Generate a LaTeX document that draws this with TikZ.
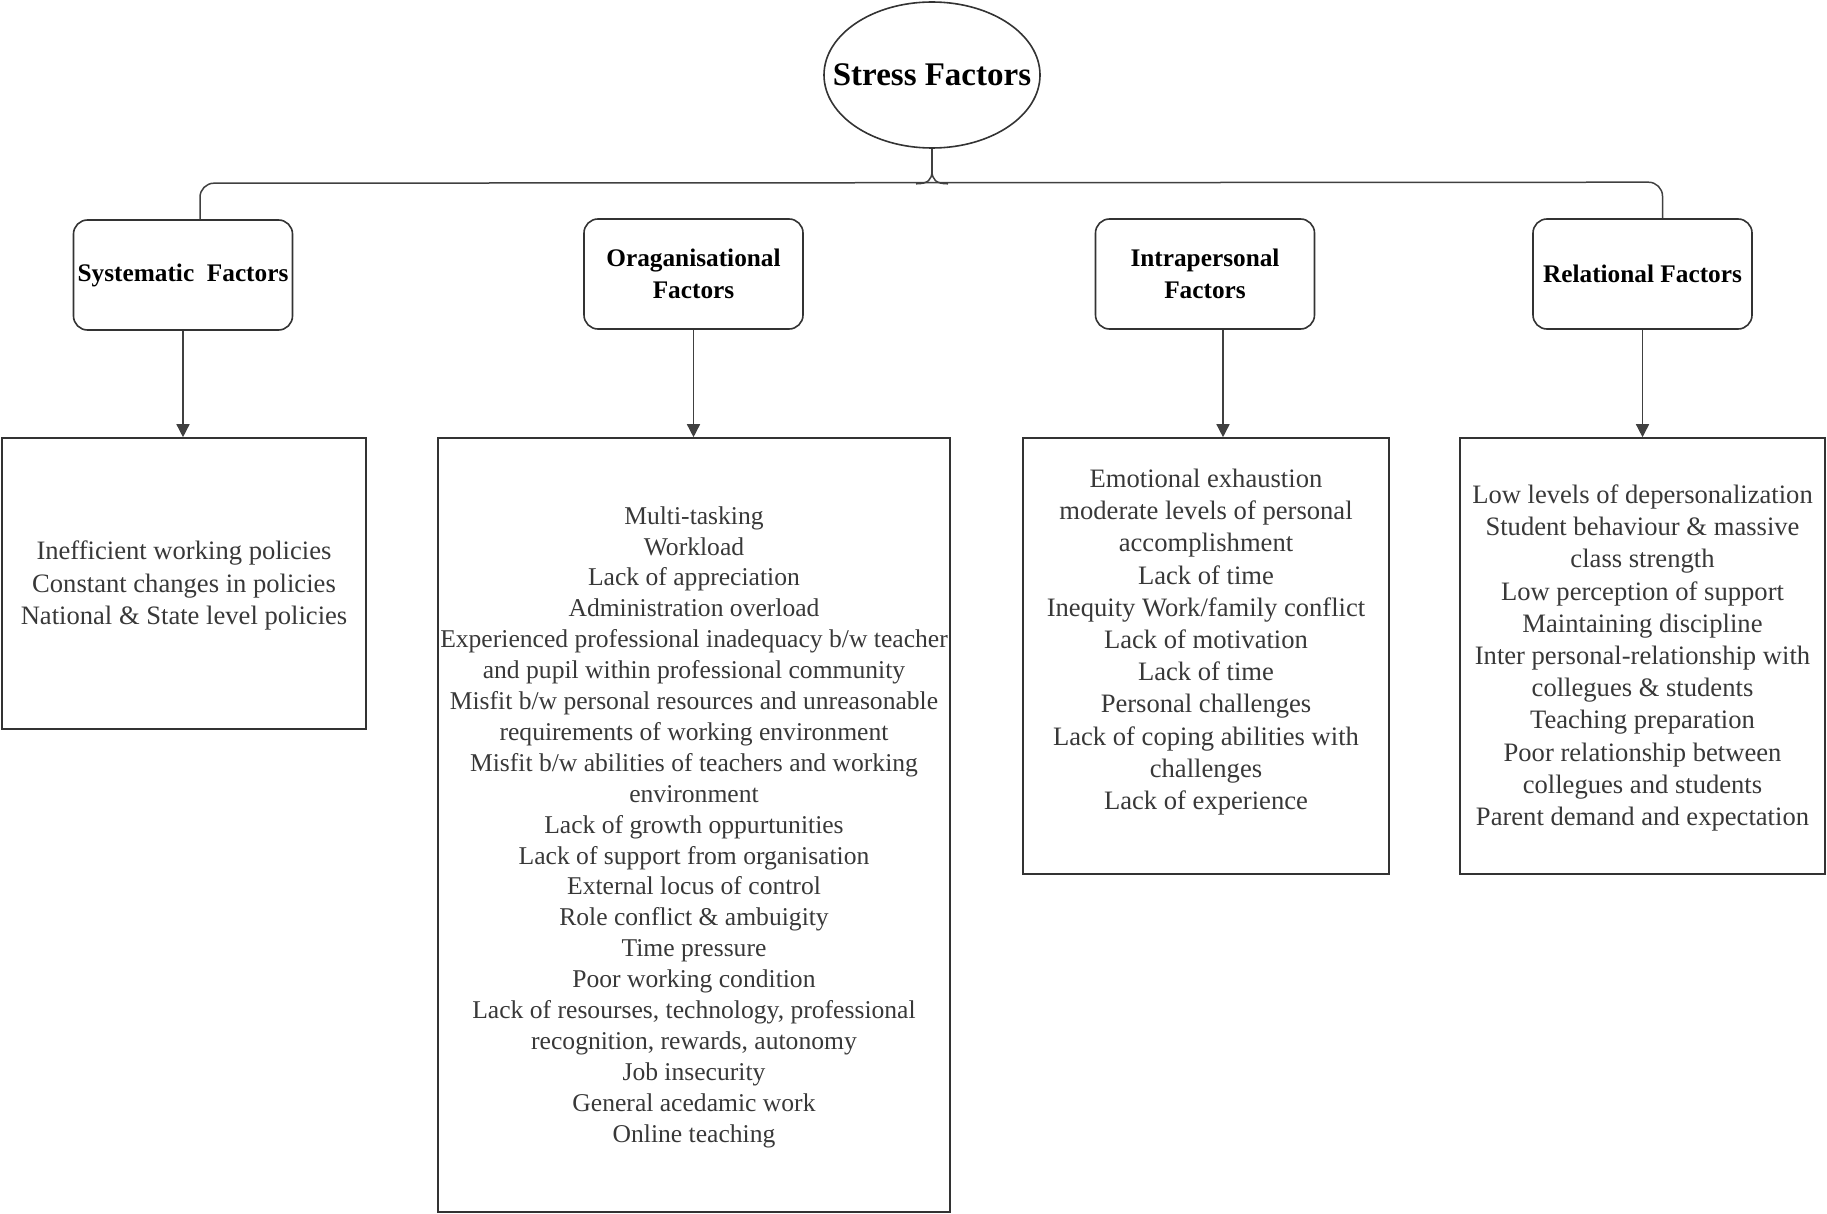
\documentclass[tikz,border=0pt]{standalone}
\usepackage{fontspec}
\setmainfont{Liberation Serif}
\usetikzlibrary{shapes.geometric,arrows.meta,calc}
\begin{document}
\begin{tikzpicture}[x=1pt,y=-1pt,
  hdr/.style={draw=black!80, line width=1.6pt, rounded corners=14pt, minimum width=219pt, minimum height=110pt, align=center, font=\bfseries\fontsize{25.3}{31.5}\selectfont, inner sep=0pt},
  cbox/.style={draw=black!80, line width=1.6pt, inner sep=0pt},
  ctext/.style={align=center, text=black!78, font=\fontsize{26.6}{32.2}\selectfont, inner sep=0pt},
  conn/.style={draw=black!75, line width=1.5pt},
  arr/.style={conn, -{Triangle[width=13pt,length=13pt]}}
]
\useasboundingbox (0,0) rectangle (1827,1214);

% root
\node[ellipse, draw=black!80, line width=1.6pt, minimum width=216pt, minimum height=146pt, inner sep=0pt] (sf) at (932,75) {};
\node[font=\bfseries\fontsize{33}{36}\selectfont, inner sep=0pt] (sft) at (sf.center) {Stress Factors};

% header boxes
\node[hdr] (b1) at (183,275) {Systematic\ \ Factors};
\node[hdr] (b2) at (693.5,274) {Oraganisational\\Factors};
\node[hdr] (b3) at (1205,274) {Intrapersonal\\Factors};
\node[hdr] (b4) at (1642.5,274) {Relational Factors};

% content boxes
\node[cbox, minimum width=364pt, minimum height=291pt] (c1) at (184,583.5) {};
\node[cbox, minimum width=512pt, minimum height=774pt] (c2) at (694,825) {};
\node[cbox, minimum width=366pt, minimum height=436pt] (c3) at (1206,656) {};
\node[cbox, minimum width=365pt, minimum height=436pt] (c4) at (1642.5,656) {};

% content texts
\node[ctext] (t1) at ($(c1.center)+(0,2)$) {Inefficient working policies\\Constant changes in policies\\National \& State level policies};
\node[ctext, font=\fontsize{25.6}{30.9}\selectfont] (t2) at ($(c2.center)+(0,2)$) {Multi-tasking\\Workload\\Lack of appreciation\\Administration overload\\Experienced professional inadequacy b/w teacher\\and pupil within professional community\\Misfit b/w personal resources and unreasonable\\requirements of working environment\\Misfit b/w abilities of teachers and working\\environment\\Lack of growth oppurtunities\\Lack of support from organisation\\External locus of control\\Role conflict \& ambuigity\\Time pressure\\Poor working condition\\Lack of resourses, technology, professional\\recognition, rewards, autonomy\\Job insecurity\\General acedamic work\\Online teaching};
\node[ctext] (t3) at ($(c3.center)+(0,-14)$) {Emotional exhaustion\\moderate levels of personal\\accomplishment\\Lack of time\\Inequity Work/family conflict\\Lack of motivation\\Lack of time\\Personal challenges\\Lack of coping abilities with\\challenges\\Lack of experience};
\node[ctext] (t4) at ($(c4.center)+(0,2)$) {Low levels of depersonalization\\Student behaviour \& massive\\class strength\\Low perception of support\\Maintaining discipline\\Inter personal-relationship with\\collegues \& students\\Teaching preparation\\Poor relationship between\\collegues and students\\Parent demand and expectation};

% brace connector
\coordinate (bm) at ($(sf.south)+(0,22)$);
\coordinate (bl) at ($(bm)+(-16,13)$);
\coordinate (br) at ($(bm)+(16,13)$);
\coordinate (hl) at ($(b1.north)+(17,-36)$);
\coordinate (hr) at ($(b4.north)+(20,-36)$);
\draw[conn] (sf.south) -- (bm);
\draw[conn] (bm) .. controls ($(bm)+(0,9)$) and ($(bm)+(-4,13)$) .. (bl);
\draw[conn] (bm) .. controls ($(bm)+(0,9)$) and ($(bm)+(4,13)$) .. (br);
\draw[conn, rounded corners=14pt] ($(b1.north)+(17,0)$) -- (hl) -- (hr) -- ($(b4.north)+(20,0)$);

% arrows
\coordinate (a3) at ($(b3.south)+(18,0)$);
\draw[arr] (b1.south) -- (b1.south |- c1.north);
\draw[arr] (b2.south) -- (b2.south |- c2.north);
\draw[arr] (a3) -- (a3 |- c3.north);
\draw[arr] (b4.south) -- (b4.south |- c4.north);
\end{tikzpicture}
\end{document}
